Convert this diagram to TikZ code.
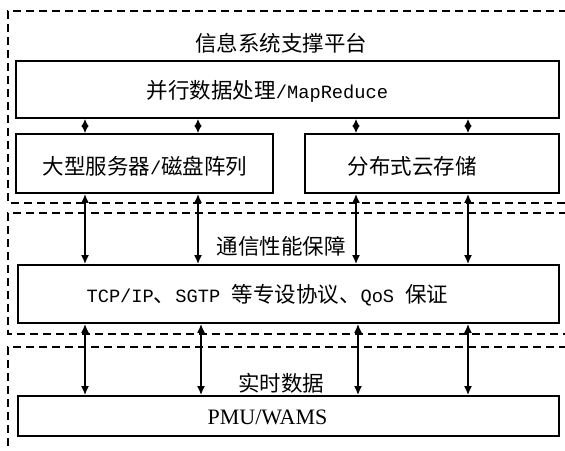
\documentclass[tikz,border=0pt]{standalone}
\usepackage{fontspec}
\setmainfont{Noto Sans CJK SC}
\newfontfamily\lat[Scale=0.87]{Liberation Mono}
\newfontfamily\tms{Liberation Serif}
\usetikzlibrary{arrows.meta}
\begin{document}
\begin{tikzpicture}[x=1pt,y=-1pt,
  box/.style={draw,line width=1.7pt,inner sep=0pt},
  txt/.style={inner sep=0pt,font=\fontsize{21.5}{23}\selectfont},
  region/.style={line width=1.4pt,dash pattern=on 8pt off 5pt},
  arr/.style={line width=2pt,{Latex[length=9pt,width=8pt]}-{Latex[length=9pt,width=8pt]}},
  sarr/.style={line width=1.6pt,{Latex[length=7.5pt,width=7.5pt]}-{Latex[length=7.5pt,width=7.5pt]}}]
\useasboundingbox (0,0) rectangle (565,450);
\clip (0,0) rectangle (565,450);
% dashed regions
\draw[region] (580,11) -- (8,11) -- (8,203) -- (580,203);
\draw[region] (580,213) -- (8,213) -- (8,334) -- (580,334);
\draw[region] (580,347) -- (8,347) -- (8,450);
% boxes
\node[box,minimum width=543,minimum height=57] (mr) at (287.5,89.5) {};
\node[box,minimum width=257,minimum height=59] (srv) at (144.5,163.5) {};
\node[box,minimum width=254,minimum height=59] (cld) at (432,163.5) {};
\node[box,minimum width=541,minimum height=58] (tcp) at (288.5,294) {};
\node[box,minimum width=541,minimum height=40] (pmu) at (288.5,416) {};
% texts
\node[txt] (t1) at (281,43) {信息系统支撑平台};
\node[txt] (t2) at (267.5,91) {并行数据处理{\lat/MapReduce}};
\node[txt] (t3) at (145,166) {大型服务器{\lat/}磁盘阵列};
\node[txt] (t4) at (412,166) {分布式云存储};
\node[txt] (t5) at (281,246) {通信性能保障};
\node[txt] (t6) at (267.5,295) {{\lat TCP/IP}、{\lat SGTP }等专设协议、{\lat QoS }保证};
\node[txt] (t7) at (281,383) {实时数据};
\node[inner sep=0pt,font=\tms\fontsize{22}{24}\selectfont] (t8) at (267.5,417) {PMU/WAMS};
% connector x positions
\coordinate (a1) at (85,0);
\coordinate (a2) at (198,0);
\coordinate (a3) at (356,0);
\coordinate (a4) at (468,0);
\coordinate (b1) at (85,0);
\coordinate (b2) at (201,0);
\coordinate (b3) at (358,0);
\coordinate (b4) at (468,0);
% short connectors
\draw[sarr] (mr.south -| a1) -- (srv.north -| a1);
\draw[sarr] (mr.south -| a2) -- (srv.north -| a2);
\draw[sarr] (mr.south -| a3) -- (cld.north -| a3);
\draw[sarr] (mr.south -| a4) -- (cld.north -| a4);
% middle connectors
\draw[arr] (srv.south -| a1) -- (tcp.north -| a1);
\draw[arr] (srv.south -| a2) -- (tcp.north -| a2);
\draw[arr] (cld.south -| a3) -- (tcp.north -| a3);
\draw[arr] (cld.south -| a4) -- (tcp.north -| a4);
% lower connectors
\draw[arr] (tcp.south -| b1) -- (pmu.north -| b1);
\draw[arr] (tcp.south -| b2) -- (pmu.north -| b2);
\draw[arr] (tcp.south -| b3) -- (pmu.north -| b3);
\draw[arr] (tcp.south -| b4) -- (pmu.north -| b4);
\end{tikzpicture}
\end{document}
